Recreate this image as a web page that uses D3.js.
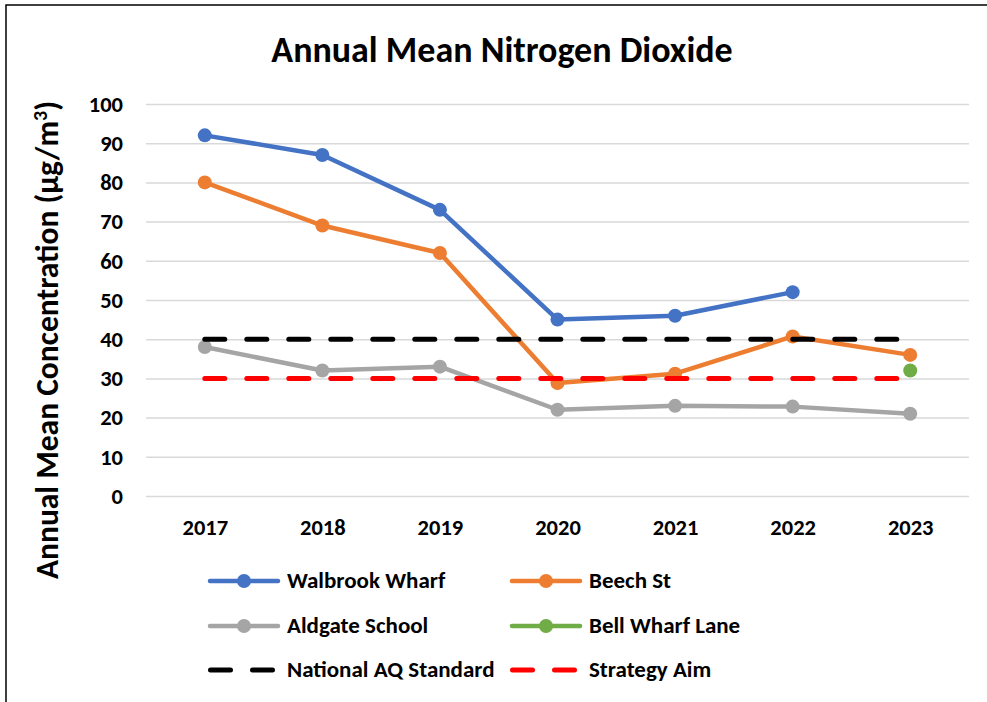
<!DOCTYPE html>
<html><head><meta charset="utf-8">
<script src="https://cdn.jsdelivr.net/npm/d3@7"></script>
<style>body{margin:0;background:#fff}svg{display:block}text{font-family:Carlito,Lato,"Liberation Sans",sans-serif;font-weight:bold;fill:#000}</style>
</head><body><svg id="c" width="987" height="702"></svg>
<script>
const years = ["2017","2018","2019","2020","2021","2022","2023"];
const walbrook = [92, 87, 73, 45, 46, 52, null];
const beech = [80, 69, 62, 28.8, 31.2, 40.7, 36];
const aldgate = [38, 32, 33, 22, 23, 22.8, 21];
const bellWharf = [null, null, null, null, null, null, 32];
const nationalStd = [40, 40, 40, 40, 40, 40, 40];
const strategyAim = [30, 30, 30, 30, 30, 30, 30];
const yTicks = [0,10,20,30,40,50,60,70,80,90,100];

const series = [
  {name:"Walbrook Wharf", values:walbrook, color:"#4472C4", dash:false},
  {name:"Beech St", values:beech, color:"#ED7D31", dash:false},
  {name:"Aldgate School", values:aldgate, color:"#A5A5A5", dash:false},
  {name:"Bell Wharf Lane", values:bellWharf, color:"#70AD47", dash:false},
  {name:"National AQ Standard", values:nationalStd, color:"#000000", dash:true},
  {name:"Strategy Aim", values:strategyAim, color:"#FF0000", dash:true}
];

const svg = d3.select("#c");
svg.append("rect").attr("x",6).attr("y",5).attr("width",1000).attr("height",720)
  .attr("fill","#fff").attr("stroke","#000").attr("stroke-width",1.5);

const pLeft=146, pRight=969, pTop=104, pBottom=496;
const x = d3.scalePoint().domain(years).range([pLeft,pRight]).padding(0.5);
const y = d3.scaleLinear().domain([0,100]).range([pBottom,pTop]);

svg.append("text").attr("x",502).attr("y",62).attr("text-anchor","middle")
  .style("font-size","36px").text("Annual Mean Nitrogen Dioxide");

const yAxis = svg.append("g").attr("transform",`translate(${pLeft},0)`)
  .call(d3.axisLeft(y).tickValues(yTicks).tickSize(-(pRight-pLeft)).tickPadding(23));
yAxis.select(".domain").remove();
yAxis.selectAll(".tick line").attr("stroke","#d9d9d9").attr("stroke-width",1.5);
yAxis.selectAll(".tick text").style("font-size","22.5px").attr("fill","#000");

const xAxis = svg.append("g").attr("transform",`translate(0,${pBottom})`)
  .call(d3.axisBottom(x).tickSize(0).tickPadding(23));
xAxis.select(".domain").remove();
xAxis.selectAll(".tick text").style("font-size","22.5px").attr("fill","#000");

svg.append("text").attr("transform","translate(58,340) rotate(-90)")
  .attr("text-anchor","middle").style("font-size","31.5px")
  .html('Annual Mean Concentration (µg/m<tspan dy="-11" style="font-size:20px">3</tspan><tspan dy="11">)</tspan>');

const line = d3.line().defined(d=>d.v!=null).x(d=>x(d.y)).y(d=>y(d.v));
series.forEach(s=>{
  const pts = years.map((yr,i)=>({y:yr,v:s.values[i]}));
  const p = svg.append("path").datum(pts).attr("d",line).attr("fill","none")
    .attr("stroke",s.color).attr("stroke-linecap","round").attr("stroke-linejoin","round");
  if(s.dash){ p.attr("stroke-width",5).attr("stroke-dasharray","20,22"); }
  else {
    p.attr("stroke-width",4.5);
    svg.append("g").selectAll("circle").data(pts.filter(d=>d.v!=null)).join("circle")
      .attr("cx",d=>x(d.y)).attr("cy",d=>y(d.v)).attr("r",7).attr("fill",s.color);
  }
});

// legend
const legRows=[581,626,670], legCols=[208,510];
series.forEach((s,i)=>{
  const cx=legCols[i%2], cy=legRows[Math.floor(i/2)];
  const g=svg.append("g");
  if(s.dash){
    g.append("line").attr("x1",cx+2.5).attr("x2",cx+70).attr("y1",cy).attr("y2",cy)
      .attr("stroke",s.color).attr("stroke-width",5).attr("stroke-linecap","round").attr("stroke-dasharray","20,22");
  } else {
    g.append("line").attr("x1",cx+2).attr("x2",cx+70).attr("y1",cy).attr("y2",cy)
      .attr("stroke",s.color).attr("stroke-width",4.5).attr("stroke-linecap","round");
    g.append("circle").attr("cx",cx+36).attr("cy",cy).attr("r",7).attr("fill",s.color);
  }
  g.append("text").attr("x",cx+79).attr("y",cy+7).style("font-size","23px").text(s.name);
});
</script></body></html>
